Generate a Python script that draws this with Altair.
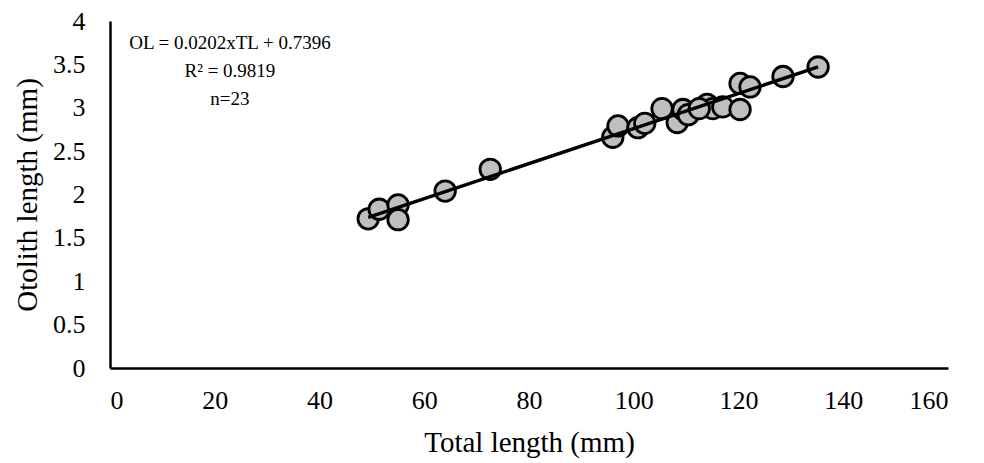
import altair as alt
import pandas as pd

total_length = [49.3, 51.4, 55.0, 55.0, 64.0, 72.6, 96.0, 97.0, 100.8, 102.1, 105.4, 108.3,
                109.4, 110.4, 114.0, 115.1, 117.0, 120.3, 120.3, 122.2, 128.5, 135.2, 112.5]
otolith_length = [1.72, 1.83, 1.88, 1.71, 2.04, 2.29, 2.66, 2.79, 2.77, 2.82, 2.99, 2.83,
                  2.98, 2.92, 3.04, 2.99, 3.01, 2.98, 3.28, 3.24, 3.36, 3.47, 2.99]

x_ticks = [0, 20, 40, 60, 80, 100, 120, 140, 160]
y_ticks = [0, 0.5, 1, 1.5, 2, 2.5, 3, 3.5, 4]

slope = 0.0202
intercept = 0.7396
fit_x = [min(total_length), max(total_length)]
fit_y = [slope * v + intercept for v in fit_x]

ann_text = ["OL = 0.0202xTL + 0.7396", "R\u00b2 = 0.9819", "n=23"]
ann_x = [22.9, 22.9, 22.9]
ann_y = [3.75, 3.42, 3.10]

pts = pd.DataFrame({"TL": total_length, "OL": otolith_length})
fit = pd.DataFrame({"TL": fit_x, "OL": fit_y})
ann = pd.DataFrame({"t": ann_text, "x": ann_x, "y": ann_y})

FONT = "Liberation Serif"

xs = alt.Scale(domain=[0, 160], nice=False)
ys = alt.Scale(domain=[0, 4], nice=False)

xax = alt.Axis(values=x_ticks, ticks=False, grid=False, format="d",
               labelPadding=19, titlePadding=15, domainColor="black", domainWidth=2.5)
yax = alt.Axis(values=y_ticks, ticks=False, grid=False,
               labelExpr="toString(datum.value)", labelPadding=25, titlePadding=10,
               domainColor="black", domainWidth=2.5)

points = alt.Chart(pts).mark_circle(size=420, color="#BFBFBF", opacity=1,
                                     stroke="black", strokeWidth=2.8).encode(
    x=alt.X("TL:Q", scale=xs, axis=xax, title="Total length (mm)"),
    y=alt.Y("OL:Q", scale=ys, axis=yax, title="Otolith length (mm)"),
)

line = alt.Chart(fit).mark_line(color="black", strokeWidth=3.5).encode(
    x=alt.X("TL:Q", scale=xs),
    y=alt.Y("OL:Q", scale=ys),
)

text = alt.Chart(ann).mark_text(font=FONT, fontSize=19, color="black", align="center",
                                baseline="middle").encode(
    x=alt.X("x:Q", scale=xs),
    y=alt.Y("y:Q", scale=ys),
    text="t:N",
)

chart = alt.layer(points, line, text).properties(
    width=838, height=347,
    autosize=alt.AutoSizeParams(type="none"),
    padding={"left": 102, "top": 13, "right": 20, "bottom": 90},
).configure_view(stroke=None).configure_axis(
    labelFont=FONT, titleFont=FONT, labelFontSize=26, titleFontSize=29,
    labelColor="black", titleColor="black", titleFontWeight="normal",
)

chart.save("out.html", embed_options={"renderer": "svg", "actions": False})
